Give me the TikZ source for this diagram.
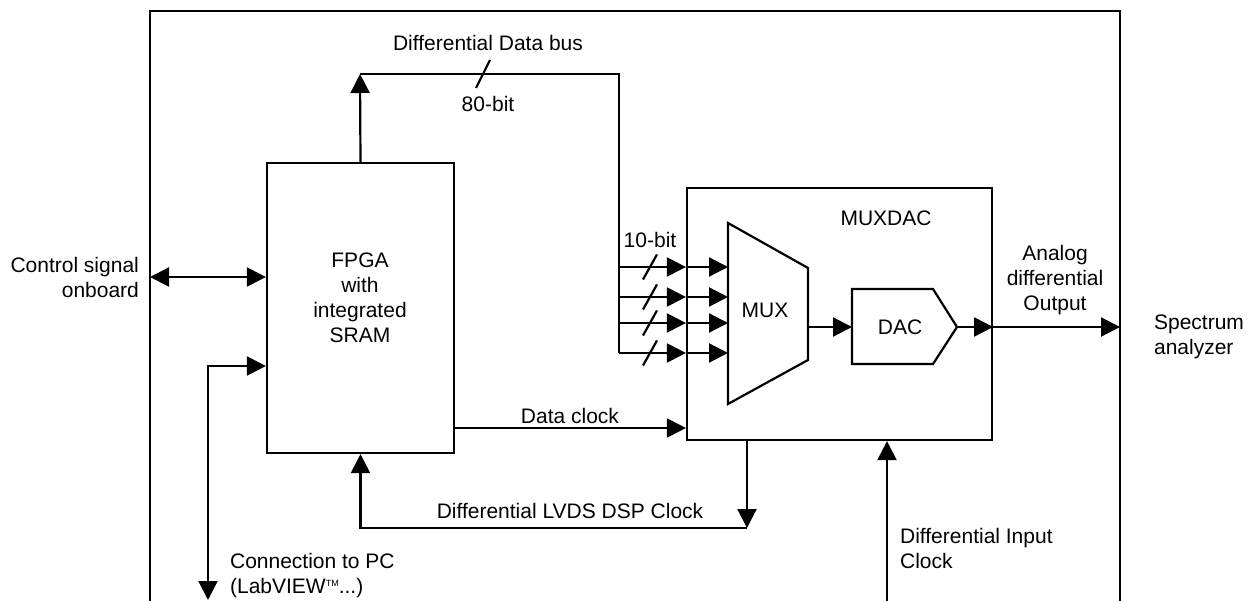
\documentclass[tikz,border=0pt]{standalone}
\usepackage{fontspec}
\setmainfont{Liberation Sans}
\usetikzlibrary{arrows.meta}
\begin{document}
\begin{tikzpicture}[x=1pt,y=-1pt,
  line width=2.2pt,
  txt/.style={font=\fontsize{21}{25}\selectfont, inner sep=0pt},
  box/.style={draw, line width=2.2pt, inner sep=0pt},
  arr/.style={-{Triangle[length=19pt,width=19pt]}},
  darr/.style={{Triangle[length=19pt,width=19pt]}-{Triangle[length=19pt,width=19pt]}}]
\useasboundingbox (0,0) rectangle (1253,601);

% outer frame
\draw (150,601) -- (150,11) -- (1120,11) -- (1120,601);
\coordinate (frameW) at (150,277);
\coordinate (frameE) at (1120,327);

% blocks
\node[box, minimum width=187pt, minimum height=290pt] (fpga) at (360.5,308) {};
\node[txt, align=center] (fpgatxt) at (360,298) {FPGA\\with\\integrated\\SRAM};
\node[box, minimum width=305pt, minimum height=252pt] (muxdac) at (839.5,314) {};
\node[txt] (muxdactxt) at (886,218) {MUXDAC};

% MUX
\draw (728,223) -- (808,268) -- (808,360) -- (728,404) -- cycle;
\coordinate (muxW) at (728,310);
\coordinate (muxE) at (808,327);
\node[txt] (muxtxt) at (765,310) {MUX};

% DAC
\draw (852,289) -- (933,289) -- (957,327) -- (933,364) -- (852,364) -- cycle;
\coordinate (dacW) at (852,327);
\coordinate (dacE) at (957,327);
\node[txt] (dactxt) at (900,327) {DAC};

% control signal
\draw[darr] (frameW) -- (fpga.west |- frameW);
\node[txt, align=right, anchor=east] (ctl) at (140,277.5) {Control signal\\onboard};

% connection to PC
\coordinate (pcend) at (208,600);
\coordinate (pcy) at (0,366);
\draw[darr] (pcend) |- (fpga.west |- pcy);
\node[txt, align=left, anchor=west] (pctxt) at (229,576) {Connection to PC\\(LabVIEW\raisebox{7pt}{\fontsize{9}{9}\selectfont TM}...)};

% data bus
\coordinate (busup) at (360,74);
\coordinate (buscorner) at (619,74);
\coordinate (busbot) at (619,353);
\draw[arr] (fpga.north) -- (busup);
\draw (busup) -- (buscorner) -- (busbot);
\draw (476,88) -- (490,60);
\node[txt] (dbus) at (488,43) {Differential Data bus};
\node[txt] (b80) at (488,104) {80-bit};
\node[txt] (b10) at (650,240) {10-bit};

\foreach \yy in {267,297,323,353} {
  \coordinate (by) at (0,\yy);
  \draw[arr] (buscorner |- by) -- (muxdac.west |- by);
  \draw[arr] (muxdac.west |- by) -- (muxW |- by);
  \draw (643,\yy+12.5) -- (657,\yy-12.5);
}

% data clock
\coordinate (dcy) at (0,428);
\draw[arr] (fpga.east |- dcy) -- (muxdac.west |- dcy);
\node[txt] (dctxt) at (570,416) {Data clock};

% DSP clock
\coordinate (dspx) at (747,0);
\coordinate (dspc) at (747,528);
\draw[arr] (muxdac.south -| dspx) -- (dspc);
\draw[arr] (dspc) -| (fpga.south);
\node[txt] (dsptxt) at (570,511) {Differential LVDS DSP Clock};

% input clock
\coordinate (inclk) at (887,601);
\draw[arr] (inclk) -- (muxdac.south -| inclk);
\node[txt, align=left, anchor=west] (inclktxt) at (899,548) {Differential Input\\Clock};

% mux -> dac -> output
\draw[arr] (muxE) -- (dacW);
\draw[arr] (dacE) -- (muxdac.east |- dacE);
\draw[arr] (muxdac.east |- dacE) -- (frameE);
\node[txt, align=center] (aout) at (1055,280) {Analog\\differential\\Output};
\node[txt, align=left, anchor=west] (spec) at (1153,337) {Spectrum\\analyzer};
\end{tikzpicture}
\end{document}
